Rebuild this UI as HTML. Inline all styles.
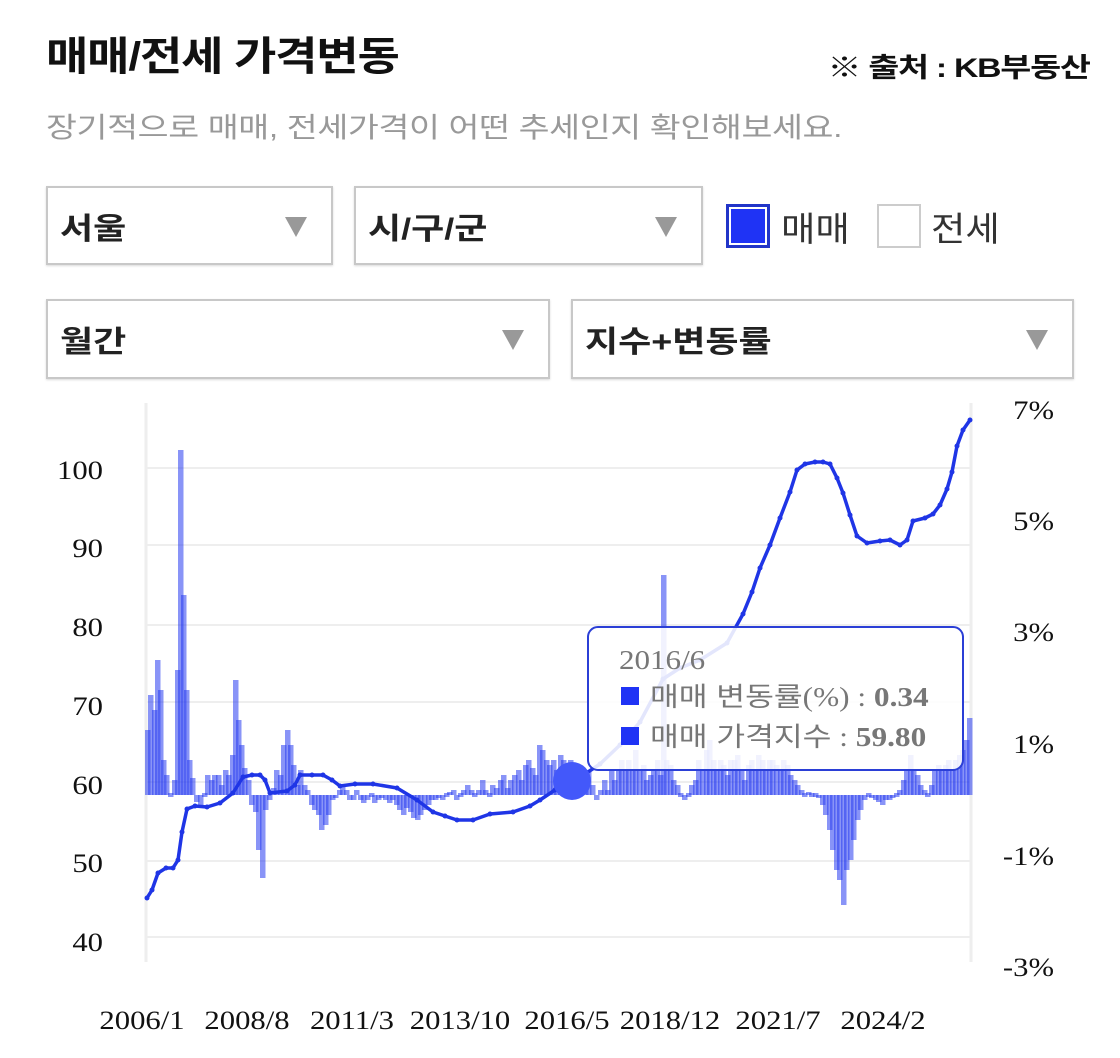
<!DOCTYPE html>
<html><head><meta charset="utf-8">
<style>
html,body{margin:0;padding:0;background:#fff;}
body{width:1120px;height:1058px;position:relative;overflow:hidden;font-family:"Liberation Sans","Noto Sans CJK KR",sans-serif;}
.abs{position:absolute;white-space:nowrap;transform-origin:left center;}
.box{position:absolute;border:2px solid #c8c8c8;box-sizing:border-box;background:#fff;box-shadow:0 1px 2px rgba(0,0,0,0.15);}
.box span{position:absolute;left:12px;top:50%;transform:translateY(-50%) scaleX(1.2);transform-origin:left center;font-size:30px;font-weight:bold;color:#222;}
.tri{position:absolute;right:24px;top:50%;margin-top:-9px;width:0;height:0;border-left:11px solid transparent;border-right:11px solid transparent;border-top:20px solid #999;}
</style></head><body>
<div class="abs" style="left:46px;top:24px;font-size:40px;font-weight:bold;color:#111;letter-spacing:-1px;transform:scaleX(1.15);">매매/전세 가격변동</div>
<div class="abs" style="right:30px;top:46px;font-size:27px;font-weight:bold;color:#111;letter-spacing:-1px;transform:scaleX(1.25);transform-origin:right center;">※ 출처 : KB부동산</div>
<div class="abs" style="left:46px;top:106px;font-size:28px;color:#999;letter-spacing:-0.3px;transform:scaleX(1.2);">장기적으로 매매, 전세가격이 어떤 추세인지 확인해보세요.</div>

<div class="box" style="left:46px;top:186px;width:287px;height:79px;"><span>서울</span><div class="tri"></div></div>
<div class="box" style="left:354px;top:186px;width:349px;height:79px;"><span>시/구/군</span><div class="tri"></div></div>
<div class="abs" style="left:726px;top:204px;width:44px;height:44px;box-sizing:border-box;border:3px solid #2235c8;background:#1f33f5;box-shadow:inset 0 0 0 2px #fff;"></div>
<div class="abs" style="left:781px;top:202px;font-size:34px;color:#333;transform:scaleX(1.1);">매매</div>
<div class="abs" style="left:877px;top:204px;width:44px;height:44px;box-sizing:border-box;border:2px solid #ccc;background:#fff;"></div>
<div class="abs" style="left:931px;top:202px;font-size:34px;color:#333;transform:scaleX(1.1);">전세</div>

<div class="box" style="left:46px;top:299px;width:504px;height:80px;"><span>월간</span><div class="tri"></div></div>
<div class="box" style="left:571px;top:299px;width:503px;height:80px;"><span>지수+변동률</span><div class="tri"></div></div>

<svg id="ch" width="1120" height="1058" style="position:absolute;left:0;top:0;" font-family="Liberation Serif, serif"></svg>

<script>
var s=document.getElementById('ch');var NS='http://www.w3.org/2000/svg';
function el(t,a,txt){var e=document.createElementNS(NS,t);for(var k in a)e.setAttribute(k,a[k]);if(txt!=null)e.textContent=txt;s.appendChild(e);return e;}
function tx(x,y,str,anchor,size){return el('text',{x:0,y:0,transform:'translate('+x+','+y+') scale(1.18,1)','font-size':size||26,'text-anchor':anchor,fill:'#111'},str);}
el('line',{x1:146,y1:403,x2:146,y2:962,stroke:'#eee','stroke-width':3});
el('line',{x1:971,y1:403,x2:971,y2:962,stroke:'#eee','stroke-width':3});
[468,545,625,702,782,861,937].forEach(function(y){el('line',{x1:146,y1:y,x2:971,y2:y,stroke:'#eee','stroke-width':2});});
[[100,470],[90,548],[80,627],[70,706],[60,785],[50,863],[40,942]].forEach(function(p){tx(103,p[1]+9,p[0],'end');});
[['7%',410],['5%',521],['3%',632],['1%',744],['-1%',856],['-3%',967]].forEach(function(p){tx(1054,p[1]+9,p[0],'end');});
[['2006/1',142],['2008/8',247],['2011/3',352],['2013/10',460],['2016/5',567],['2018/12',670],['2021/7',778],['2024/2',883]].forEach(function(p){tx(p[1],1029,p[0],'middle');});
var B=[[147,730],[150,695],[154,710],[157,660],[160,690],[163,760],[166,775],[170,795],[174,780],[177,670],[180,450],[183,595],[186,690],[189,760],[192,778],[196,802],[200,805],[204,795],[207,775],[211,780],[214,775],[218,775],[221,785],[225,770],[228,775],[232,755],[235,680],[238,720],[241,745],[244,768],[248,780],[251,805],[255,812],[258,850],[262,878],[265,810],[269,800],[273,788],[276,770],[280,775],[283,745],[287,730],[290,745],[293,765],[297,785],[300,770],[304,785],[307,790],[311,805],[314,810],[318,815],[321,830],[325,825],[328,815],[332,800],[335,798],[339,790],[342,785],[346,790],[349,800],[353,800],[356,790],[360,800],[363,803],[367,800],[371,797],[374,803],[378,800],[381,798],[385,800],[389,803],[392,800],[396,805],[399,810],[403,815],[406,808],[410,812],[413,818],[417,820],[420,815],[424,810],[428,805],[431,800],[435,800],[438,798],[442,800],[446,795],[449,792],[453,790],[456,800],[460,795],[463,790],[467,785],[471,790],[474,795],[478,790],[482,780],[485,790],[489,795],[492,785],[496,788],[500,780],[503,775],[507,788],[510,780],[514,775],[518,770],[521,780],[525,765],[528,760],[532,768],[535,775],[539,745],[542,750],[546,760],[549,765],[553,760],[556,770],[560,755],[563,760],[567,770],[570,760],[574,775],[578,772],[581,780],[585,790],[588,770],[592,785],[596,800],[600,790],[604,780],[607,790],[611,770],[614,780],[618,770],[621,760],[625,770],[628,760],[632,770],[635,750],[639,770],[643,765],[646,780],[650,775],[653,770],[657,760],[660,775],[663,575],[666,760],[670,765],[673,780],[677,785],[680,795],[684,800],[688,795],[691,785],[695,780],[698,760],[702,770],[706,750],[709,740],[713,760],[716,770],[720,760],[723,765],[727,775],[730,760],[734,760],[737,755],[741,770],[744,780],[748,765],[751,760],[755,770],[758,755],[762,760],[765,770],[769,760],[772,760],[776,765],[780,770],[783,760],[787,765],[790,775],[794,780],[797,785],[801,790],[804,795],[808,792],[811,795],[815,795],[818,798],[822,805],[825,815],[829,830],[832,850],[836,870],[839,880],[843,905],[846,870],[850,860],[853,840],[857,820],[860,810],[864,800],[868,795],[871,798],[875,800],[878,802],[882,805],[885,800],[889,800],[892,798],[896,795],[899,790],[903,780],[906,770],[910,755],[913,770],[917,775],[920,785],[924,790],[927,795],[931,785],[934,770],[938,765],[941,770],[945,765],[948,760],[952,770],[955,760],[959,755],[962,750],[966,740],[969,718]];
B.forEach(function(b){var y0=795,t=b[1];var y=Math.min(y0,t),h=Math.abs(y0-t);if(h<3){h=4;y=y0-2;}
el('rect',{x:b[0]-2,y:y,width:5.5,height:h,fill:'rgba(40,60,240,0.55)'});});
var L=[[147,898],[152,890],[158,873],[166,868],[173,868],[178,860],[182,832],[187,809],[195,806],[207,807],[220,803],[233,793],[243,777],[252,775],[260,775],[265,780],[270,793],[287,791],[295,785],[300,775],[312,775],[323,775],[332,780],[340,786],[355,784],[373,784],[397,788],[417,800],[433,812],[445,816],[457,820],[473,820],[490,814],[513,812],[530,806],[540,800],[555,790],[572,781],[585,774],[600,764],[620,745],[640,722],[663,679],[680,668],[700,660],[727,643],[743,614],[752,592],[760,568],[770,545],[780,518],[790,492],[797,470],[805,464],[815,462],[823,462],[830,464],[837,478],[843,493],[850,515],[857,536],[867,543],[880,541],[890,540],[900,545],[907,540],[913,521],[925,518],[933,514],[940,505],[947,489],[952,472],[957,446],[963,430],[970,420]];
var d='M'+L.map(function(p){return p[0]+','+p[1];}).join('L');
el('path',{d:d,fill:'none',stroke:'#1f35e6','stroke-width':3.5,'stroke-linejoin':'round'});
L.forEach(function(p){el('circle',{cx:p[0],cy:p[1],r:2.5,fill:'#1f35e6'});});
el('circle',{cx:572,cy:781,r:19,fill:'#4358fa'});
el('rect',{x:588,y:627,width:375,height:143,rx:10,fill:'rgba(255,255,255,0.88)',stroke:'#2b3fd6','stroke-width':2});
el('text',{x:0,y:0,transform:'translate(619,669) scale(1.15,1)','font-size':27,fill:'#777'},'2016/6');
el('rect',{x:621,y:687,width:18,height:18,fill:'#1f33f5'});
el('rect',{x:621,y:727,width:18,height:18,fill:'#1f33f5'});
var t1=el('text',{x:0,y:0,transform:'translate(650,706) scale(1.16,1)','font-size':27,fill:'#777'});
t1.innerHTML='<tspan font-family="Liberation Sans, Noto Sans CJK KR, sans-serif">매매 변동률</tspan>(%) : <tspan font-weight="bold">0.34</tspan>';
var t2=el('text',{x:0,y:0,transform:'translate(650,746) scale(1.16,1)','font-size':27,fill:'#777'});
t2.innerHTML='<tspan font-family="Liberation Sans, Noto Sans CJK KR, sans-serif">매매 가격지수</tspan> : <tspan font-weight="bold">59.80</tspan>';
</script>
</body></html>
